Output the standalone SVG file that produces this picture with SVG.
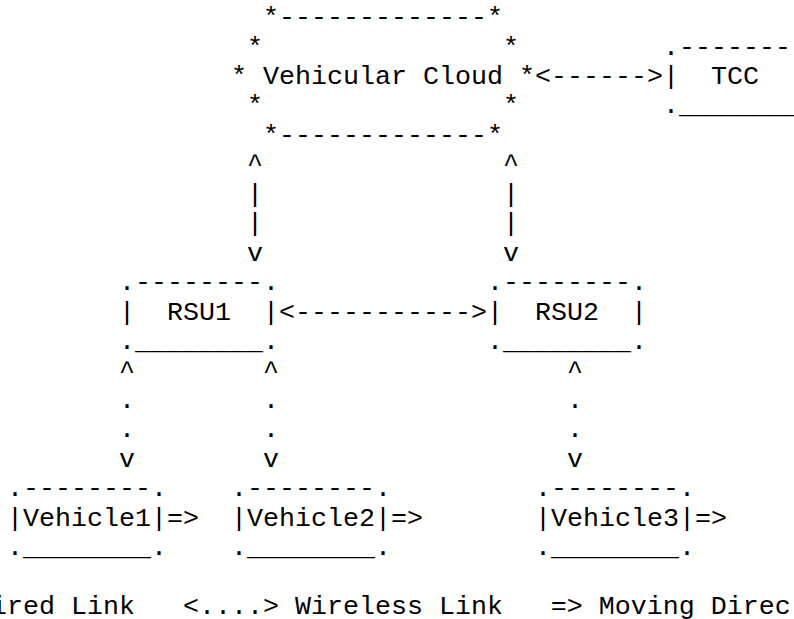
<svg xmlns="http://www.w3.org/2000/svg" width="794" height="619" viewBox="0 0 794 619" xml:space="preserve">
<style>
text{font-family:"Courier New","Liberation Mono",monospace;font-size:26.67px;fill:#000;white-space:pre}
.c{text-anchor:middle}
</style>
<rect width="794" height="619" fill="#fff"/>
<g id="cloud">
<text x="263" y="25.1">*-------------*</text>
<text x="247" y="54.55">*               *</text>
<text x="231" y="84">* Vehicular Cloud *</text>
<text x="247" y="113.45">*               *</text>
<text x="263" y="142.9">*-------------*</text>
</g>
<g id="tcc">
<text x="663" y="54.55">.--------</text>
<text x="663" y="84">|  TCC</text>
<text x="663" y="113.45">.________</text>
</g>
<g id="rsu1">
<text x="119" y="290.15">.--------.</text>
<text x="119" y="319.6">|  RSU1  |</text>
<text x="119" y="349.05">.________.</text>
</g>
<g id="rsu2">
<text x="487" y="290.15">.--------.</text>
<text x="487" y="319.6">|  RSU2  |</text>
<text x="487" y="349.05">.________.</text>
</g>
<g id="vehicle1">
<text x="7" y="496.3">.--------.</text>
<text x="7" y="525.75">|Vehicle1|=&gt;</text>
<text x="7" y="555.2">.________.</text>
</g>
<g id="vehicle2">
<text x="231" y="496.3">.--------.</text>
<text x="231" y="525.75">|Vehicle2|=&gt;</text>
<text x="231" y="555.2">.________.</text>
</g>
<g id="vehicle3">
<text x="535" y="496.3">.--------.</text>
<text x="535" y="525.75">|Vehicle3|=&gt;</text>
<text x="535" y="555.2">.________.</text>
</g>
<g id="connectors">
<text x="535" y="84">&lt;------&gt;</text>
<text x="279" y="319.6">&lt;-----------&gt;</text>
<text class="c" x="255" y="172.35">^</text>
<text class="c" x="255" y="201.8">|</text>
<text class="c" x="255" y="231.25">|</text>
<text class="c" x="255" y="260.7">v</text>
<text class="c" x="511" y="172.35">^</text>
<text class="c" x="511" y="201.8">|</text>
<text class="c" x="511" y="231.25">|</text>
<text class="c" x="511" y="260.7">v</text>
<text class="c" x="127" y="378.5">^</text>
<text class="c" x="127" y="407.95">.</text>
<text class="c" x="127" y="437.4">.</text>
<text class="c" x="127" y="466.85">v</text>
<text class="c" x="271" y="378.5">^</text>
<text class="c" x="271" y="407.95">.</text>
<text class="c" x="271" y="437.4">.</text>
<text class="c" x="271" y="466.85">v</text>
<text class="c" x="575" y="378.5">^</text>
<text class="c" x="575" y="407.95">.</text>
<text class="c" x="575" y="437.4">.</text>
<text class="c" x="575" y="466.85">v</text>
</g>
<g id="legend">
<text x="-9" y="614.1">ired Link   &lt;....&gt; Wireless Link   =&gt; Moving Direc</text>
</g>
</svg>
